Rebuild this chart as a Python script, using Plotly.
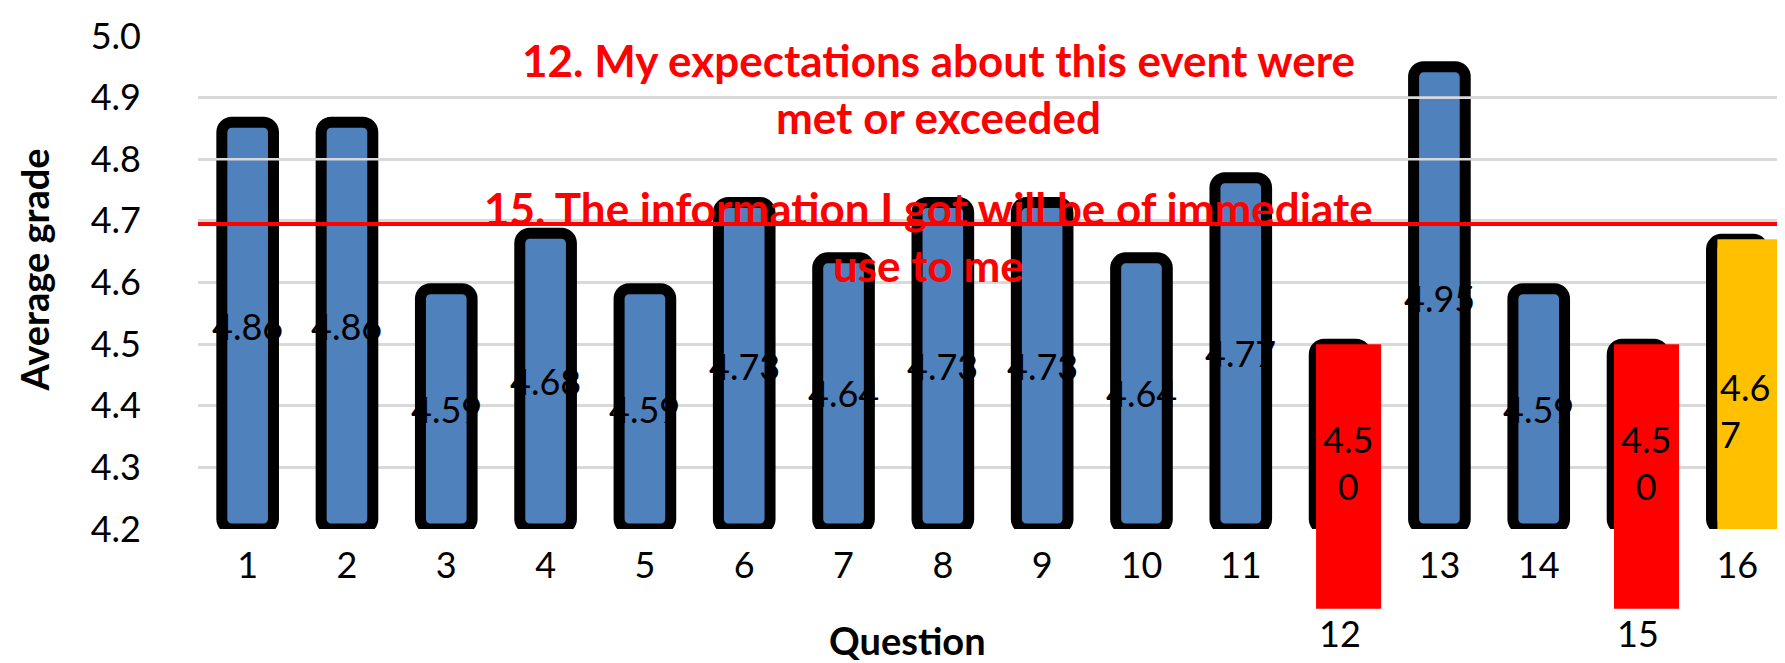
import plotly.graph_objects as go

# Average grade per question
questions = [str(i) for i in range(1, 17)]
grades = [4.86, 4.86, 4.59, 4.68, 4.59, 4.73, 4.64, 4.73, 4.73, 4.64,
          4.77, 4.50, 4.95, 4.59, 4.50, 4.67]
y_min, y_max = 4.2, 5.0

# highlighted questions and the red reference line
red_questions = ["12", "15"]
yellow_questions = ["16"]
reference_line = 4.695
grid_over_bars = [4.8, 4.9]   # these grid lines sit on top of the bars in the original

note_12 = "12. My expectations about this event were<br>met or exceeded"
note_15 = "15. The information I got will be of immediate<br>use to me"

FONT = "Lato"
BLUE = "#4F81BD"
RED = "#FF0000"
YELLOW = "#FFC000"
GRID = "#D9D9D9"

highlighted = red_questions + yellow_questions
tick_text = ["" if q in red_questions else q for q in questions]

fig = go.Figure()
fig.add_trace(go.Bar(
    x=list(range(len(questions))),
    y=[g - y_min for g in grades],
    base=y_min,
    width=0.52,
    marker=dict(color=BLUE, line=dict(color="black", width=11), cornerradius=10),
    customdata=grades,
    hovertemplate="Question %{x}: %{customdata:.2f}<extra></extra>",
))

shapes = []
annotations = []
span = y_max - y_min

# value labels in the middle of each bar
for i, (q, g) in enumerate(zip(questions, grades)):
    if q in highlighted:
        continue
    annotations.append(dict(
        x=i, y=(g + y_min) / 2, xref="x", yref="y", text=f"{g:.2f}",
        showarrow=False, yanchor="middle",
        font=dict(family=FONT, size=36, color="black"),
    ))

# coloured boxes laid over the highlighted bars
for q in highlighted:
    i = questions.index(q)
    g = grades[i]
    is_red = q in red_questions
    shapes.append(dict(
        type="rect", layer="above", xref="x", yref="y domain",
        x0=i - (0.242 if is_red else 0.201), x1=i + 0.413,
        y0=-0.162 if is_red else 0, y1=(g - y_min) / span,
        fillcolor=RED if is_red else YELLOW, line=dict(width=0),
    ))
    lab = f"{g:.2f}"
    annotations.append(dict(
        x=i, y=(g + y_min) / 2, xref="x", yref="y",
        text=lab[:3] + "<br>" + lab[3:], showarrow=False,
        xanchor="center" if is_red else "left",
        align="center" if is_red else "left",
        xshift=8 if is_red else -19, yshift=-26, yanchor="middle",
        font=dict(family=FONT, size=36, color="black"),
    ))

# category labels pushed below the red boxes
for q in red_questions:
    annotations.append(dict(
        x=questions.index(q), y=0, xref="x", yref="paper", text=q,
        showarrow=False, yanchor="middle", yshift=-104,
        font=dict(family=FONT, size=36, color="black"),
    ))

for v in grid_over_bars:
    shapes.append(dict(
        type="line", layer="above", xref="paper", yref="y",
        x0=0, x1=1, y0=v, y1=v, line=dict(color=GRID, width=2.7),
    ))

shapes.append(dict(
    type="line", layer="above", xref="paper", yref="y",
    x0=0, x1=1, y0=reference_line, y1=reference_line,
    line=dict(color=RED, width=4),
))

for txt, xpos, ypos in [(note_12, 0.466, 0.894), (note_15, 0.46, 0.594)]:
    annotations.append(dict(
        x=xpos, y=ypos, xref="paper", yref="paper", text=txt, showarrow=False,
        xanchor="center", yanchor="middle", align="center",
        font=dict(family=FONT, size=44, color=RED, weight="bold"),
    ))

# axis titles
annotations.append(dict(
    x=0, y=0.5, xref="paper", yref="paper", text="Average grade", showarrow=False,
    textangle=-90, xanchor="center", yanchor="middle", xshift=-165, yshift=12,
    font=dict(family=FONT, size=38, color="black", weight="bold"),
))
annotations.append(dict(
    x=0.5, y=0, xref="paper", yref="paper", text="Question", showarrow=False,
    xanchor="center", yanchor="middle", xshift=-85, yshift=-111,
    font=dict(family=FONT, size=38, color="black", weight="bold"),
))

fig.update_layout(
    width=1785, height=663,
    margin=dict(l=190, r=6, t=28, b=142),
    plot_bgcolor="white", paper_bgcolor="white",
    showlegend=False,
    shapes=shapes, annotations=annotations,
    font=dict(family=FONT, color="black"),
)
fig.update_xaxes(
    range=[-0.5, len(questions) - 0.5],
    tickvals=list(range(len(questions))), ticktext=tick_text,
    tickfont=dict(family=FONT, size=36, color="black"),
    ticklabelstandoff=12, showgrid=False, showline=False, zeroline=False,
)
fig.update_yaxes(
    range=[y_min, y_max], tick0=y_min, dtick=0.1, tickformat=".1f",
    tickfont=dict(family=FONT, size=36, color="black"),
    ticklabelstandoff=56, gridcolor=GRID, gridwidth=2.7,
    showline=False, zeroline=False,
)

fig.write_html("out.html")
